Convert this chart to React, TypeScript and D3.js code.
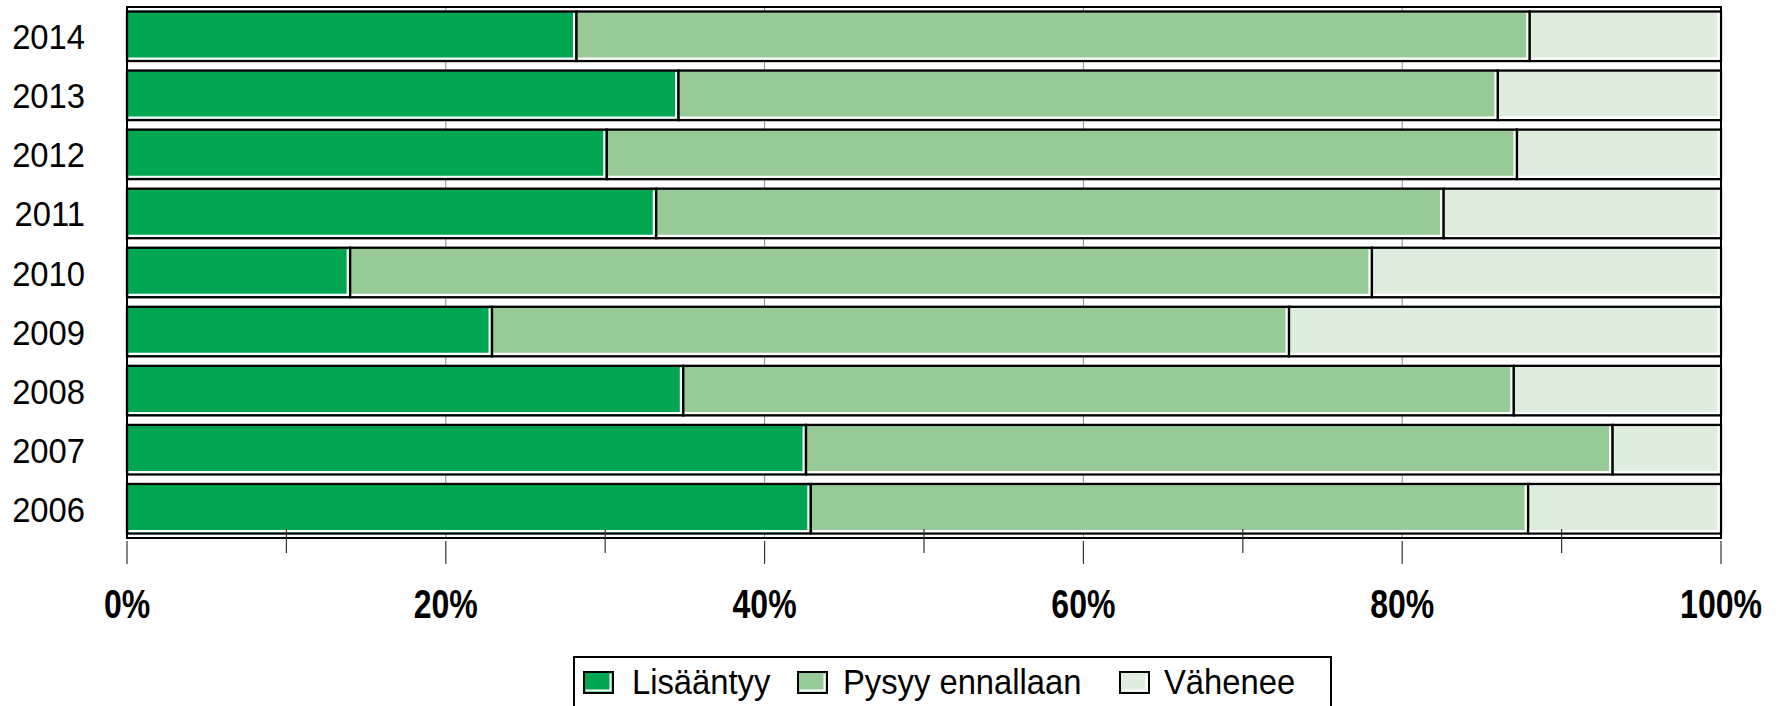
import * as d3 from 'd3';

const years = ['2014', '2013', '2012', '2011', '2010', '2009', '2008', '2007', '2006'];
const lisaantyy = [28.2, 34.6, 30.1, 33.2, 14.0, 22.9, 34.9, 42.6, 42.9];
const pysyy = [59.8, 51.4, 57.1, 49.4, 64.1, 50.0, 52.1, 50.6, 45.0];
const vahenee = [12.0, 14.0, 12.8, 17.4, 21.9, 27.1, 13.0, 6.8, 12.1];

const seriesKeys = ['lisaantyy', 'pysyy', 'vahenee'];
const seriesLabels = ['Lisääntyy', 'Pysyy ennallaan', 'Vähenee'];
const seriesColors = ['#00A651', '#97CA97', '#DFEDDF'];

const majorTicks = [0, 20, 40, 60, 80, 100];
const minorTicks = [10, 30, 50, 70, 90];

const W = 1782;
const H = 706;
const FONT = '"Liberation Sans", Arial, sans-serif';

export default function App() {
  const left = 127;
  const right = 1721;
  const top = 7;
  const bottom = 538;

  const x = d3.scaleLinear([0, 100], [left, right]);
  const y = d3
    .scaleBand<string>()
    .domain(years)
    .range([top, bottom])
    .paddingInner(0.161)
    .paddingOuter(0.076);

  const rows = years.map((yr, i) => ({
    year: yr,
    lisaantyy: lisaantyy[i],
    pysyy: pysyy[i],
    vahenee: vahenee[i],
  }));
  const stacked = d3.stack<any>().keys(seriesKeys)(rows);

  const bh = y.bandwidth();

  // legend layout
  const swatchX = [584, 798, 1120];
  const labelX = [632, 843, 1164];
  const legendY = 672;

  return (
    <svg
      width={W}
      height={H}
      style={{ position: 'absolute', left: 0, top: 0, background: '#fff' }}
    >
      {/* gridlines */}
      <g stroke='#8c8c8c' strokeWidth={1}>
        {majorTicks.slice(1, -1).map((t) => (
          <line key={t} x1={x(t)} x2={x(t)} y1={top} y2={bottom} />
        ))}
      </g>

      {/* bars */}
      {stacked.map((s, si) => (
        <g key={s.key}>
          {s.map((d, i) => {
            const x0 = x(d[0]);
            const x1 = x(d[1]);
            const y0 = y(years[i])!;
            const y1 = y0 + bh;
            return (
              <g key={i}>
                <rect
                  x={x0}
                  y={y0}
                  width={x1 - x0}
                  height={bh}
                  fill={seriesColors[si]}
                  stroke='#000'
                  strokeWidth={2.3}
                />
                <polyline
                  points={`${x0 + 1.5},${y1 - 2.4} ${x1 - 2.4},${y1 - 2.4} ${x1 - 2.4},${y0 + 1.5}`}
                  fill='none'
                  stroke='#fff'
                  strokeWidth={2.2}
                />
              </g>
            );
          })}
        </g>
      ))}

      {/* plot frame */}
      <rect
        x={left}
        y={top}
        width={right - left}
        height={bottom - top}
        fill='none'
        stroke='#000'
        strokeWidth={2}
      />

      {/* ticks */}
      <g stroke='#333' strokeWidth={1.2}>
        {majorTicks.map((t) => (
          <line key={t} x1={x(t)} x2={x(t)} y1={541} y2={564} />
        ))}
        {minorTicks.map((t) => (
          <line key={t} x1={x(t)} x2={x(t)} y1={529} y2={553} />
        ))}
      </g>

      {/* x labels */}
      <g fontFamily={FONT} fontWeight='bold' fontSize={40} fill='#000'>
        {majorTicks.map((t) => (
          <text
            key={t}
            textAnchor='middle'
            transform={`translate(${x(t)},618) scale(0.8,1)`}
          >
            {`${t}%`}
          </text>
        ))}
      </g>

      {/* y labels */}
      <g fontFamily={FONT} fontSize={36} fill='#000'>
        {years.map((yr) => (
          <text
            key={yr}
            textAnchor='end'
            transform={`translate(85,${y(yr)! + bh / 2 + 13}) scale(0.91,1)`}
          >
            {yr}
          </text>
        ))}
      </g>

      {/* legend */}
      <rect x={574} y={657} width={757} height={60} fill='#fff' stroke='#000' strokeWidth={2} />
      {seriesLabels.map((lab, i) => {
        const sx = swatchX[i];
        return (
          <g key={lab}>
            <rect
              x={sx}
              y={legendY}
              width={29}
              height={21}
              fill={seriesColors[i]}
              stroke='#000'
              strokeWidth={2}
            />
            <polyline
              points={`${sx + 1.5},${legendY + 18.5} ${sx + 26.5},${legendY + 18.5} ${sx + 26.5},${legendY + 1.5}`}
              fill='none'
              stroke='#fff'
              strokeWidth={2}
            />
            <text
              fontFamily={FONT}
              fontSize={36}
              fill='#000'
              transform={`translate(${labelX[i]},694) scale(0.91,1)`}
            >
              {lab}
            </text>
          </g>
        );
      })}
    </svg>
  );
}
